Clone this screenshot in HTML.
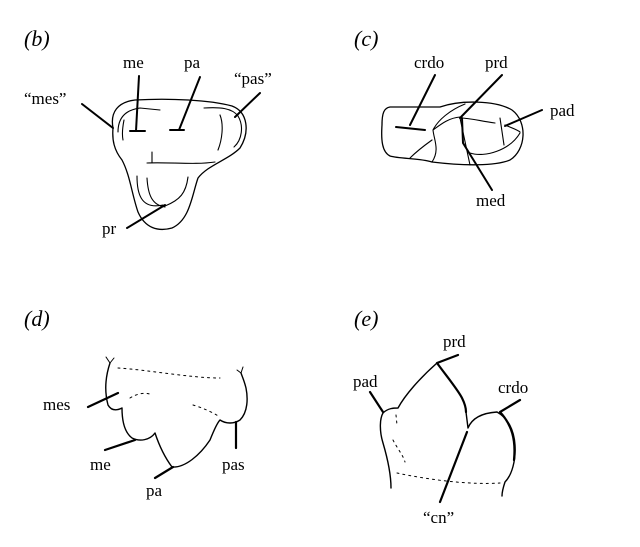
<!DOCTYPE html>
<html><head><meta charset="utf-8"><style>
html,body{margin:0;padding:0;background:#fff;}
svg{display:block;}
text{font-family:"Liberation Serif",serif;fill:#000;}
.t{font-size:17px;}
.h{font-size:22px;font-style:italic;}
</style></head><body>
<svg width="640" height="547" viewBox="0 0 640 547" xmlns="http://www.w3.org/2000/svg">
<g fill="none" stroke="#000" stroke-linecap="round" stroke-linejoin="round">
<!-- (b) -->
<path stroke-width="1.3" d="M113,128 C110,112 118,102 135,100 C170,98 210,100 232,106 C248,112 250,132 240,148 C228,160 208,165 198,178 C192,195 190,220 172,228 C158,232 145,228 138,212 C132,195 130,175 122,160 C114,150 112,140 113,128 Z"/>
<path stroke-width="1.1" d="M118,132 C118,118 125,110 140,108 L160,110 M204,108 C220,107 232,108 238,116 C244,126 242,140 234,147 M220,115 C224,125 222,140 218,150 M147,163 C170,162 195,165 215,162 M152,152 L152,163 M137,176 C137,192 140,210 163,205 M147,178 C148,195 152,205 165,207 M188,177 C186,193 180,200 165,206 M124,120 C122,130 122,135 123,140"/>
<path stroke-width="2" d="M139,76 L136,131 M130,131 L145,131 M200,77 L179,130 M170,130 L184,130 M82,104 L113,128 M260,93 L235,117 M127,228 L165,205"/>
<!-- (c) -->
<path stroke-width="1.3" d="M390,107 L440,107 C460,100 495,100 512,110 C528,122 526,150 510,160 C495,166 465,166 432,162 C420,158 400,159 390,156 C382,152 381,140 382,125 C382,113 384,108 390,107 Z"/>
<path stroke-width="1.1" d="M432,162 C440,150 434,140 433,130 C438,120 450,110 465,104 M433,130 C440,125 448,118 460,117 M460,118 C470,118 480,121 495,123 M500,118 L504,145 M505,125 C512,128 518,130 520,132 M470,153 C485,158 510,150 520,133 M410,158 C418,150 425,145 432,140 M460,118 L470,165"/>
<path stroke-width="2" d="M435,75 L410,125 M396,127 L425,130 M502,75 L460,118 M542,110 L505,126 M462,118 L463,143 L492,190"/>
<!-- (d) -->
<path stroke-width="1.4" d="M110,363 C106,375 104,390 108,405 C112,412 118,410 122,408 C122,420 124,432 132,438 C140,442 150,440 155,433 C158,442 163,455 172,467 C185,468 200,455 210,440 C214,430 218,422 220,420 C226,424 234,424 240,420 C248,412 248,398 246,388 C244,380 242,376 241,373"/>
<path stroke-width="1" d="M110,363 L106,357 M110,363 L114,358 M241,373 L237,370 M241,373 L243,367"/>
<path stroke-width="1" stroke-dasharray="2,4" d="M118,368 C150,370 190,378 220,378 M130,398 C138,393 146,392 152,395 M193,405 C203,408 212,412 220,417"/>
<path stroke-width="2.2" d="M88,407 L118,393 M105,450 L135,440 M155,478 L173,467 M236,422 L236,448"/>
<!-- (e) -->
<path stroke-width="1.4" d="M391,488 C391,475 388,460 383,443 C379,430 380,418 383,413 C388,408 394,408 398,408 C405,395 420,378 437,363"/>
<path stroke-width="1.4" d="M466,412 L468,428 C472,418 482,413 497,412 C508,418 514,430 515,445 C516,460 512,475 505,482 C503,488 502,493 502,496"/>
<path stroke-width="1" stroke-dasharray="2,4" d="M397,473 C430,480 470,485 500,483 M393,440 C397,448 403,455 405,462 M396,415 L397,425"/>
<path stroke-width="2.2" d="M370,392 L383,412 M437,363 L458,355 M437,363 C448,378 458,390 462,398 C465,404 466,408 466,412 M500,412 L520,400 M500,412 C512,425 516,440 514,460 M467,432 L440,502"/>
</g>
<text class="h" x="24" y="46">(b)</text>
<text class="h" x="354" y="46">(c)</text>
<text class="h" x="24" y="326">(d)</text>
<text class="h" x="354" y="326">(e)</text>
<text class="t" x="123" y="68">me</text>
<text class="t" x="184" y="68">pa</text>
<text class="t" x="234" y="84">“pas”</text>
<text class="t" x="24" y="104">“mes”</text>
<text class="t" x="102" y="234">pr</text>
<text class="t" x="414" y="68">crdo</text>
<text class="t" x="485" y="68">prd</text>
<text class="t" x="550" y="116">pad</text>
<text class="t" x="476" y="206">med</text>
<text class="t" x="43" y="410">mes</text>
<text class="t" x="90" y="470">me</text>
<text class="t" x="146" y="496">pa</text>
<text class="t" x="222" y="470">pas</text>
<text class="t" x="443" y="347">prd</text>
<text class="t" x="353" y="387">pad</text>
<text class="t" x="498" y="393">crdo</text>
<text class="t" x="423" y="523">“cn”</text>
</svg>
</body></html>
